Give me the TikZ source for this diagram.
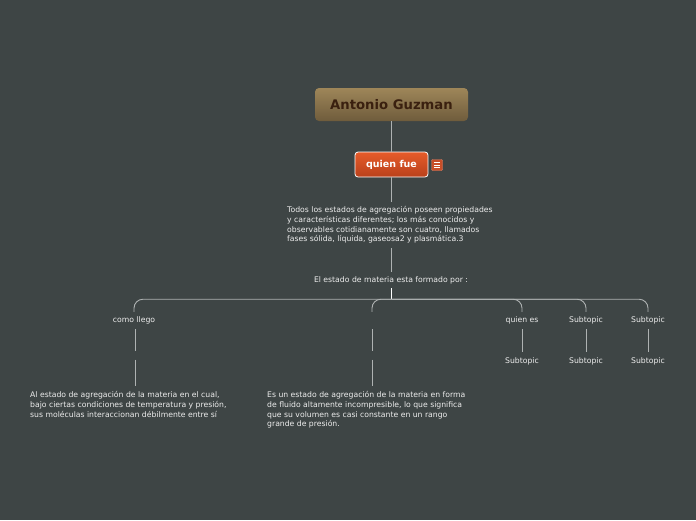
\documentclass[tikz,border=0pt]{standalone}
\usepackage{fontspec}
\setmainfont{DejaVu Sans}
\usetikzlibrary{calc}
\definecolor{cBg}{HTML}{3E4545}
\definecolor{cLine}{HTML}{AEB2B2}
\definecolor{cTxt}{HTML}{EDEDED}
\definecolor{cRootTop}{HTML}{9E8659}
\definecolor{cRootBot}{HTML}{6F5C3C}
\definecolor{cRootInk}{HTML}{3A200F}
\definecolor{cMainTop}{HTML}{E65B2A}
\definecolor{cMainBot}{HTML}{B9411B}
\definecolor{cNote}{HTML}{C84E28}
\newcommand{\leaffont}{\fontsize{7.7}{9.7}\selectfont}
\tikzset{
  rootbox/.style={rounded corners=4pt, top color=cRootTop, bottom color=cRootBot,
     minimum width=153pt, minimum height=33pt, text=cRootInk,
     font=\fontsize{13.2}{15}\selectfont\bfseries},
  mainbox/.style={draw=white, line width=0.8pt, rounded corners=3pt,
     top color=cMainTop, bottom color=cMainBot, minimum width=73pt,
     minimum height=25pt, text=white, font=\fontsize{9.5}{11}\selectfont\bfseries},
  notebox/.style={fill=cNote, draw=cNote!70!white, line width=0.4pt,
     minimum size=11pt, inner sep=0pt, rounded corners=1pt},
  leaf/.style={text=cTxt, font=\leaffont, inner sep=0pt, minimum height=17pt},
  gap/.style={inner sep=0pt, minimum height=8pt, minimum width=1pt},
  txt/.style={text=cTxt, font=\leaffont, align=left, inner xsep=0pt},
  link/.style={draw=cLine, line width=0.9pt},
  bus/.style={link, rounded corners=9pt},
}
\begin{document}
\begin{tikzpicture}[x=1pt,y=-1pt]
  \fill[cBg] (0,0) rectangle (696,520);
  \useasboundingbox (0,0) rectangle (696,520);
  % central topic and first branch
  \node[rootbox] (root) at (391.5,104.5) {\raisebox{-1.5pt}{Antonio Guzman}};
  \node[mainbox] (quienfue) at (391.5,164.5) {\raisebox{-3pt}{quien fue}};
  \node[notebox] (notes) at (437,165) {};
  \foreach \dy in {-2.5,0,2.5}
    \draw[white, line width=0.6pt] ($(notes.west)+(3,\dy)$) -- ($(notes.east)+(-3,\dy)$);
  \node[txt, anchor=west, minimum height=46pt] (desc) at (287,225)
    {Todos los estados de agregación poseen propiedades\\
     y características diferentes; los más conocidos y\\
     observables cotidianamente son cuatro, llamados\\
     fases sólida, líquida, gaseosa2 y plasmática.3};
  \node[txt, minimum height=16pt] (estado) at (391,280)
    {El estado de materia esta formado por :};
  \draw[link] (root.south) -- (quienfue.north);
  \draw[link] (quienfue.south) -- (quienfue.south |- desc.north);
  \draw[link] (quienfue.south |- desc.south) -- (quienfue.south |- estado.north);
  % second level
  \node[leaf] (como) at (134,320.5) {como llego};
  \node[leaf, minimum width=1pt] (blank) at (372,320.5) {};
  \node[leaf] (quienes) at (522,320.5) {quien es};
  \node[leaf] (subA) at (586,320.5) {Subtopic};
  \node[leaf] (subB) at (648,320.5) {Subtopic};
  \draw[link, white] (quienfue.south |- estado.south) -- ++(0,11) coordinate (hub);
  \foreach \c in {como,blank,quienes,subA,subB}
    \draw[bus] (hub) -| (\c.north);
  % third level
  \node[gap] (comogap) at (135,355.5) {};
  \node[gap] (blankgap) at (372,355.5) {};
  \node[leaf] (quienesSub) at (522,361) {Subtopic};
  \node[leaf] (subASub) at (586,361) {Subtopic};
  \node[leaf] (subBSub) at (648,361) {Subtopic};
  \draw[link] (como.south -| comogap) -- (comogap.north);
  \draw[link] (blank.south) -- (blankgap.north);
  \draw[link] (quienes.south) -- (quienesSub.north);
  \draw[link] (subA.south) -- (subASub.north);
  \draw[link] (subB.south) -- (subBSub.north);
  % notes under the first two branches
  \node[txt, anchor=north west, inner ysep=5.5pt] (comotxt) at (30,386)
    {Al estado de agregación de la materia en el cual,\\
     bajo ciertas condiciones de temperatura y presión,\\
     sus moléculas interaccionan débilmente entre sí};
  \node[txt, anchor=north west, inner ysep=5.5pt] (blanktxt) at (267,386)
    {Es un estado de agregación de la materia en forma\\
     de fluido altamente incompresible, lo que significa\\
     que su volumen es casi constante en un rango\\
     grande de presión.};
  \draw[link] (comogap.south) -- (comogap.south |- comotxt.north);
  \draw[link] (blankgap.south) -- (blankgap.south |- blanktxt.north);
\end{tikzpicture}
\end{document}
